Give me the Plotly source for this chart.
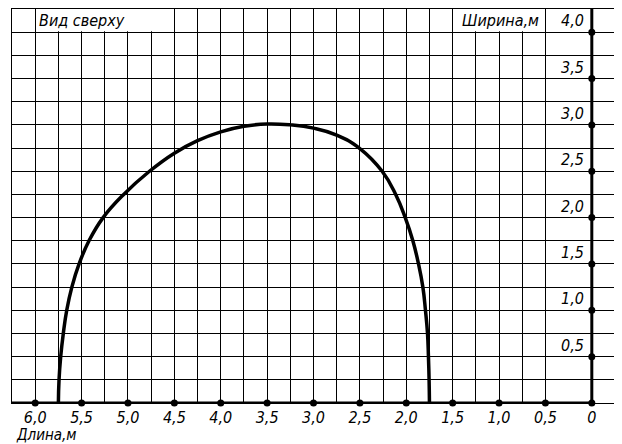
import plotly.graph_objects as go

# ---- data ----
curve_x = [5.75, 5.743, 5.725, 5.697, 5.66, 5.605, 5.527, 5.42, 5.268, 5.046, 4.768, 4.5,
           4.25, 4.0, 3.75, 3.5, 3.25, 3.0, 2.75, 2.5, 2.26, 2.114, 2.011, 1.929, 1.868,
           1.821, 1.793, 1.771, 1.761, 1.754, 1.75]
curve_y = [0.0, 0.25, 0.5, 0.75, 1.0, 1.25, 1.5, 1.75, 2.0, 2.25, 2.5, 2.695,
           2.83, 2.925, 2.985, 3.01, 3.0, 2.965, 2.89, 2.745, 2.5, 2.25, 2.0, 1.75, 1.5,
           1.25, 1.0, 0.75, 0.5, 0.25, 0.0]
x_ticks = [6.0, 5.5, 5.0, 4.5, 4.0, 3.5, 3.0, 2.5, 2.0, 1.5, 1.0, 0.5, 0.0]
x_labels = ["6,0", "5,5", "5,0", "4,5", "4,0", "3,5", "3,0", "2,5", "2,0", "1,5", "1,0", "0,5", "0"]
y_ticks = [0.5, 1.0, 1.5, 2.0, 2.5, 3.0, 3.5, 4.0]
y_labels = ["0,5", "1,0", "1,5", "2,0", "2,5", "3,0", "3,5", "4,0"]
x_minor_grid = [0.75, 1.25, 1.75, 2.25, 2.75, 3.25, 3.75, 4.25, 4.75, 5.25, 5.75]
y_grid = [i * 0.25 for i in range(1, 17)]

FONT = "DejaVu Sans Condensed, Liberation Sans Narrow, DejaVu Sans, sans-serif"
tfont = dict(family=FONT, size=16, color="black", style="italic")

fig = go.Figure()

# curve
fig.add_trace(go.Scatter(x=curve_x, y=curve_y, mode="lines",
                         line=dict(color="black", width=3.5, shape="spline", smoothing=1.3),
                         hoverinfo="skip", showlegend=False))
# axis dots
fig.add_trace(go.Scatter(x=x_ticks, y=[0] * len(x_ticks), mode="markers",
                         marker=dict(color="black", size=7), cliponaxis=False,
                         showlegend=False, hoverinfo="skip"))
fig.add_trace(go.Scatter(x=[0] * len(y_ticks), y=y_ticks, mode="markers",
                         marker=dict(color="black", size=7), cliponaxis=False,
                         showlegend=False, hoverinfo="skip"))

shapes = [
    # white patches hiding grid lines in the top row behind headings
    dict(type="rect", xref="x", yref="y", x0=5.985, x1=4.515, y0=4.01, y1=4.25,
         fillcolor="white", line=dict(width=0), layer="between"),
    dict(type="rect", xref="x", yref="y", x0=1.485, x1=0.515, y0=4.01, y1=4.25,
         fillcolor="white", line=dict(width=0), layer="between"),
    # thick axes
    dict(type="line", xref="x", yref="y", x0=6.25, x1=0, y0=0, y1=0,
         line=dict(color="black", width=3), layer="above"),
    dict(type="line", xref="x", yref="y", x0=0, x1=0, y0=0, y1=4.25,
         line=dict(color="black", width=3), layer="above"),
]

annotations = []
for v, t in zip(y_ticks, y_labels):
    annotations.append(dict(x=0, y=v, xref="x", yref="y", text=t, showarrow=False,
                            xanchor="right", yanchor="bottom", xshift=-6, yshift=0,
                            font=tfont))
annotations.append(dict(x=5.98, y=4.0, xref="x", yref="y", text="Вид сверху", showarrow=False,
                        xanchor="left", yanchor="bottom", font=tfont))
annotations.append(dict(x=1.42, y=4.0, xref="x", yref="y", text="Ширина,м", showarrow=False,
                        xanchor="left", yanchor="bottom", font=tfont))
annotations.append(dict(x=0, y=0, xref="paper", yref="paper", text="Длина,м", showarrow=False,
                        xanchor="left", yanchor="top", xshift=2, yshift=-21,
                        font=dict(family=FONT, size=15, color="black", style="italic")))

fig.update_layout(
    width=622, height=444,
    margin=dict(l=4, r=15, t=1, b=49),
    paper_bgcolor="white", plot_bgcolor="white",
    shapes=shapes, annotations=annotations,
    xaxis=dict(range=[6.25, -0.25], tickvals=x_ticks, ticktext=x_labels,
               tickfont=tfont, ticks="", showgrid=True, gridcolor="black", gridwidth=1,
               minor=dict(tickvals=x_minor_grid, showgrid=True, gridcolor="black", gridwidth=1, ticks=""),
               showline=True, mirror=True, linecolor="black", linewidth=1,
               zeroline=False, fixedrange=True),
    yaxis=dict(range=[0, 4.25], tickvals=y_grid, showticklabels=False, ticks="",
               showgrid=True, gridcolor="black", gridwidth=1,
               showline=True, mirror=True, linecolor="black", linewidth=1,
               zeroline=False, fixedrange=True),
)

fig.write_html("out.html")
